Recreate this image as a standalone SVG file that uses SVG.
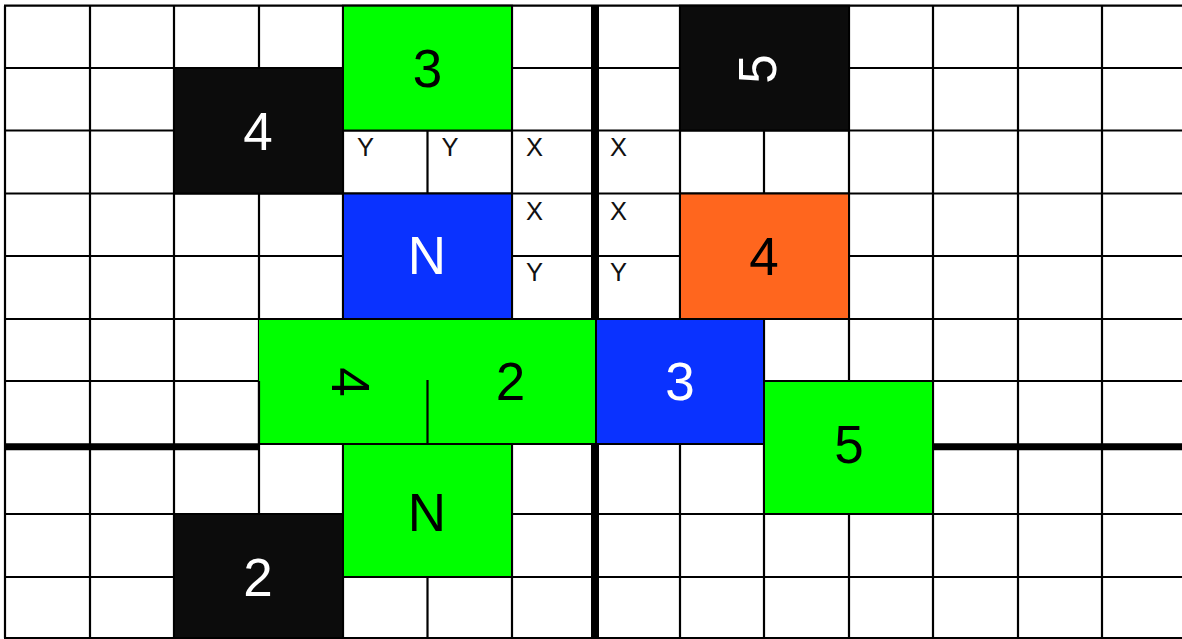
<svg xmlns="http://www.w3.org/2000/svg" width="1182" height="639" viewBox="0 0 1182 639">
<style>
.g{stroke:#000;stroke-width:2.2;fill:none}
.thick{stroke:#000;fill:none}
.blk{stroke:#000;stroke-width:2}
.green{fill:#00FF00}
.blue{fill:#0A32FF}
.orange{fill:#FF661E}
.black{fill:#0C0C0C}
.big{font-family:"Liberation Sans",Arial,sans-serif;font-size:53px;text-anchor:middle}
.dk{fill:#000}
.lt{fill:#fff}
.sm{font-family:"Liberation Sans",Arial,sans-serif;font-size:25.5px;fill:#111}
</style>
<rect x="0" y="0" width="1182" height="639" fill="#fff"/>
<g id="grid">
<path class="g" d="M5,5.7V638 M90,5.7V638 M174,5.7V638 M259,5.7V638 M343,5.7V638 M427.5,5.7V638 M512,5.7V638 M680,5.7V638 M764,5.7V638 M849,5.7V638 M933,5.7V638 M1018,5.7V638 M1102,5.7V638"/>
<path class="g" d="M4,5.7H1182 M4,68H1182 M4,130.5H1182 M4,193.5H1182 M4,256H1182 M4,319H1182 M4,381H1182 M4,514H1182 M4,577H1182 M4,638H1182"/>
</g>
<g id="node-green-3"><rect class="green blk" x="343" y="5.7" width="169" height="124.8"/><text class="big dk" x="427.5" y="87">3</text></g>
<g id="node-black-4"><rect class="black blk" x="174" y="68" width="169" height="125.5"/><text class="big lt" x="258" y="150">4</text></g>
<g id="node-black-5"><rect class="black blk" x="680" y="5.7" width="169" height="124.8"/><text class="big lt" x="757" y="88" transform="rotate(-90 757 69)">5</text></g>
<g id="node-orange-4"><rect class="orange blk" x="680" y="193.5" width="169" height="125.5"/><text class="big dk" x="764" y="275">4</text></g>
<g id="node-blue-N"><rect class="blue blk" x="343" y="193.5" width="169" height="125.5"/><text class="big lt" x="427" y="274">N</text></g>
<g id="node-green-4-2">
<rect class="green" x="259" y="319" width="337" height="125"/>
<path class="g" d="M259,319H596 M259,444H596 M259,381V444 M427.5,380V444"/>
<text class="big dk" x="351" y="401" transform="rotate(90 351 382)">4</text>
<text class="big dk" x="510.5" y="400">2</text>
</g>
<g id="node-blue-3"><rect class="blue blk" x="596" y="319" width="168" height="125"/><text class="big lt" x="680" y="400">3</text></g>
<g id="node-green-5"><rect class="green blk" x="764" y="381" width="169" height="133"/><text class="big dk" x="849" y="462.5">5</text></g>
<g id="node-green-N"><rect class="green blk" x="343" y="444" width="169" height="133"/><text class="big dk" x="427" y="531">N</text></g>
<g id="node-black-2"><rect class="black blk" x="174" y="514" width="169" height="124"/><text class="big lt" x="258" y="596">2</text></g>
<g id="connectors">
<path class="thick" stroke-width="8" d="M595,5V319 M595,444V639"/>
<path class="thick" stroke-width="7" d="M4,446.7H259 M933,446.7H1182"/>
</g>
<g id="labels">
<text class="sm" x="357" y="155.5">Y</text>
<text class="sm" x="441.5" y="155.5">Y</text>
<text class="sm" x="526" y="155.5">X</text>
<text class="sm" x="610" y="155.5">X</text>
<text class="sm" x="526" y="219.5">X</text>
<text class="sm" x="610" y="219.5">X</text>
<text class="sm" x="526" y="281">Y</text>
<text class="sm" x="610" y="281">Y</text>
</g>
</svg>
